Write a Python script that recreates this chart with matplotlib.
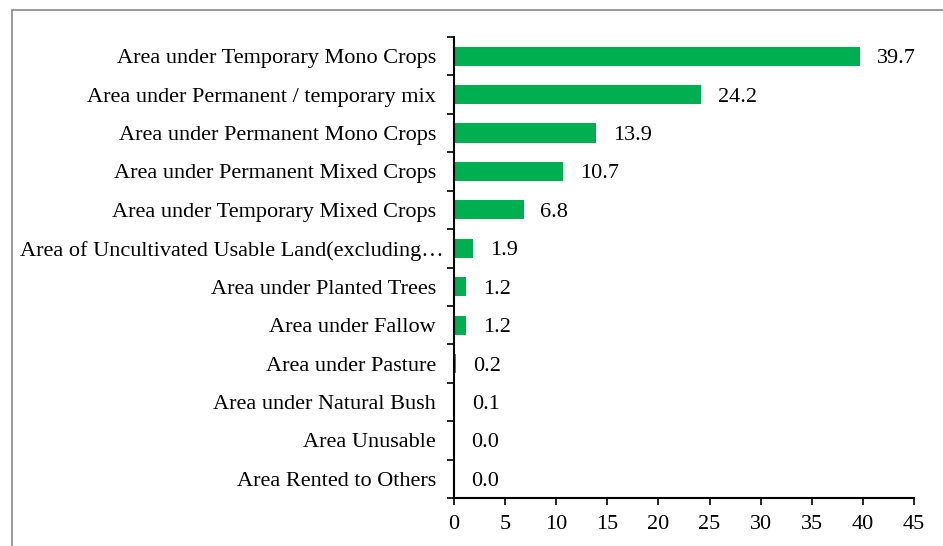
import matplotlib
matplotlib.use("Agg")
import matplotlib.pyplot as plt
from matplotlib.patches import Rectangle
import matplotlib.transforms as mtransforms
import numpy as np

categories = [
    "Area under Temporary Mono Crops",
    "Area under Permanent / temporary mix",
    "Area under Permanent Mono Crops",
    "Area under Permanent Mixed Crops",
    "Area under Temporary Mixed Crops",
    "Area of Uncultivated Usable Land(excluding\u2026",
    "Area under Planted Trees",
    "Area under Fallow",
    "Area under Pasture",
    "Area under Natural Bush",
    "Area Unusable",
    "Area Rented to Others",
]
values = [39.7, 24.2, 13.9, 10.7, 6.8, 1.9, 1.2, 1.2, 0.2, 0.1, 0.0, 0.0]
xticks = [0, 5, 10, 15, 20, 25, 30, 35, 40, 45]

plt.rcParams['font.family'] = ['Liberation Serif', 'DejaVu Serif']
FS = 16

W, H = 943, 546
fig = plt.figure(figsize=(W / 100, H / 100), dpi=100)
ax = fig.add_axes([454 / W, 1 - 498 / H, (914 - 454) / W, (498 - 37) / H])

y = np.arange(len(categories))
ax.barh(y, values, height=0.5, color='#00B050')
ax.set_ylim(len(categories) - 0.5, -0.5)
ax.set_xlim(0, 45)
ax.set_xticks(xticks)
ax.set_xticklabels([str(t) for t in xticks], fontsize=FS)
ax.set_yticks(y)
ax.set_yticklabels(categories, fontsize=FS, va='center_baseline')
ax.set_yticks(np.arange(len(categories) + 1) - 0.5, minor=True)
ax.tick_params(axis='y', which='major', length=0, pad=13)
ax.tick_params(axis='y', which='minor', length=5, width=1.2, direction='out')
ax.tick_params(axis='x', which='major', length=5, width=1.2, direction='out', pad=7)

for s in ['top', 'right']:
    ax.spines[s].set_visible(False)
for s in ['left', 'bottom']:
    ax.spines[s].set_linewidth(1.5)

# long truncated label sits closer to the axis, as in the original
for lbl in ax.get_yticklabels():
    if lbl.get_text().endswith("\u2026"):
        lbl.set_transform(lbl.get_transform() +
                          mtransforms.ScaledTranslation(8 / 100, 0, fig.dpi_scale_trans))

for yi, v in zip(y, values):
    ax.annotate(f"{v:.1f}", (v, yi), xytext=(12, 0), textcoords='offset points',
                va='center_baseline', ha='left', fontsize=FS)

fig.patches.append(Rectangle((12 / W, -0.1), 1.2, 1 - 10 / H + 0.1, transform=fig.transFigure,
                             fill=False, edgecolor='#888888', linewidth=1.2))

fig.savefig('out.png', dpi=100)
